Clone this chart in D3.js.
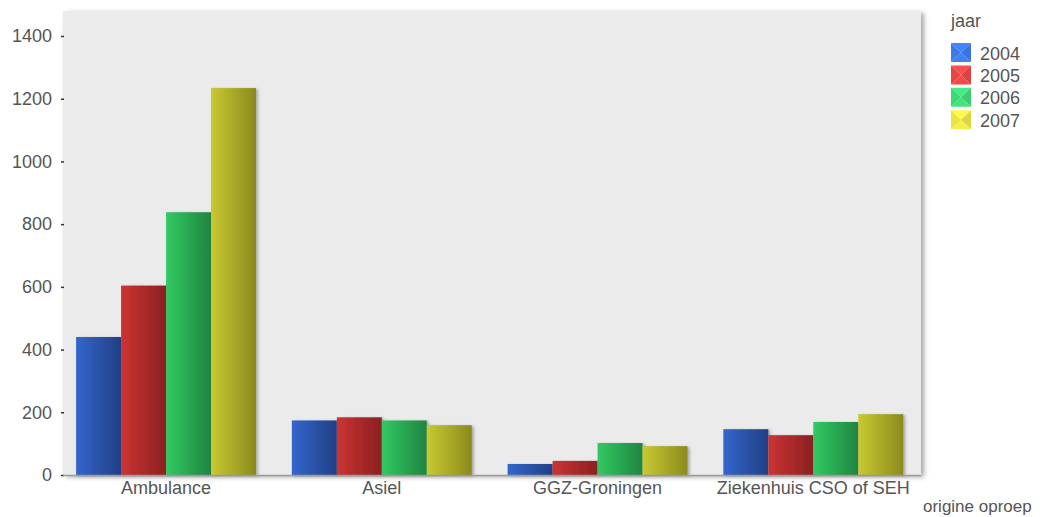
<!DOCTYPE html>
<html>
<head>
<meta charset="utf-8">
<script src="https://cdn.jsdelivr.net/npm/d3@7"></script>
<style>
  html, body { margin: 0; padding: 0; background: #fff; }
  svg { display: block; font-family: "Liberation Sans", Arial, sans-serif; }
</style>
</head>
<body>
<svg id="chart" width="1043" height="517"></svg>
<script>
// Meldingen per origine oproep, per jaar
const categories = ["Ambulance", "Asiel", "GGZ-Groningen", "Ziekenhuis CSO of SEH"];
const years = ["2004", "2005", "2006", "2007"];
const values2004 = [440, 174, 35, 146];
const values2005 = [604, 184, 45, 127];
const values2006 = [838, 174, 102, 169];
const values2007 = [1234, 159, 92, 194];
const yTicks = [0, 200, 400, 600, 800, 1000, 1200, 1400];

const seriesValues = [values2004, values2005, values2006, values2007];

// gradient stops per year: light left edge -> dark right edge
const barLight = ["#3366cc", "#cc3333", "#33c963", "#c9c932"];
const barDark  = ["#213f85", "#8a2121", "#1f8441", "#8a8a1e"];
const swatchCol = ["#3f7ff0", "#f04848", "#40e07c", "#f0ec48"];

const svg = d3.select("#chart");
const plot = { left: 63, top: 11, right: 921, bottom: 475 };

const defs = svg.append("defs");
const shadow = defs.append("filter").attr("id", "shadow")
  .attr("x", "-10%").attr("y", "-10%").attr("width", "130%").attr("height", "130%");
shadow.append("feDropShadow").attr("dx", 2).attr("dy", 1).attr("stdDeviation", 1.6)
  .attr("flood-color", "#000").attr("flood-opacity", 0.3);
const areaShadow = defs.append("filter").attr("id", "areaShadow")
  .attr("x", "-5%").attr("y", "-5%").attr("width", "110%").attr("height", "110%");
areaShadow.append("feDropShadow").attr("dx", 3).attr("dy", 2).attr("stdDeviation", 2.5)
  .attr("flood-color", "#000").attr("flood-opacity", 0.35);

years.forEach((yr, i) => {
  const g = defs.append("linearGradient").attr("id", "grad" + yr)
    .attr("x1", "0%").attr("x2", "100%").attr("y1", "0%").attr("y2", "0%");
  g.append("stop").attr("offset", "0%").attr("stop-color", barLight[i]);
  g.append("stop").attr("offset", "100%").attr("stop-color", barDark[i]);
});

// plot background
svg.append("rect")
  .attr("x", plot.left).attr("y", plot.top)
  .attr("width", plot.right - plot.left).attr("height", plot.bottom - plot.top)
  .attr("fill", "#ebebeb")
  .attr("filter", "url(#areaShadow)");

const x0 = d3.scaleBand().domain(categories).range([58.2, 921.2])
  .paddingInner(0.166).paddingOuter(0.083);
const x1 = d3.scaleBand().domain(years).range([0, x0.bandwidth()]);
const y = d3.scaleLinear().domain([0, 1400]).range([plot.bottom, 36]);

// bars
const groups = svg.append("g").selectAll("g")
  .data(categories).join("g")
  .attr("transform", d => `translate(${x0(d)},0)`);

groups.selectAll("rect")
  .data((c, ci) => years.map((yr, yi) => ({ yr, v: seriesValues[yi][ci] })))
  .join("rect")
  .attr("x", d => x1(d.yr))
  .attr("width", x1.bandwidth())
  .attr("y", d => y(d.v))
  .attr("height", d => y(0) - y(d.v))
  .attr("fill", d => `url(#grad${d.yr})`)
  .attr("filter", "url(#shadow)");

// y axis: tick dashes and labels, no domain line
const yAxis = svg.append("g")
  .attr("transform", `translate(${plot.left + 1},0)`)
  .call(d3.axisLeft(y).tickValues(yTicks).tickSize(3).tickPadding(9).tickFormat(d3.format("d")));
yAxis.select(".domain").remove();
yAxis.selectAll(".tick line").attr("stroke", "#333").attr("stroke-width", 1.5);
yAxis.selectAll(".tick text")
  .attr("font-size", 18).attr("fill", "#555")
  .attr("font-family", "Liberation Sans, Arial, sans-serif");

// x axis
const xAxis = svg.append("g")
  .attr("transform", `translate(0,${plot.bottom})`)
  .call(d3.axisBottom(x0).tickSize(0).tickPadding(6));
xAxis.select(".domain").attr("d", `M${plot.left},0.5H${plot.right}`)
  .attr("stroke", "#9a9a9a").attr("stroke-width", 1.5);
xAxis.selectAll(".tick text")
  .attr("font-size", 18).attr("fill", "#555")
  .attr("font-family", "Liberation Sans, Arial, sans-serif");

// axis title
svg.append("text")
  .attr("x", 923).attr("y", 512)
  .attr("font-size", 17).attr("fill", "#555")
  .text("origine oproep");

// legend
const legend = svg.append("g").attr("transform", "translate(951,0)");
legend.append("text").attr("x", 0).attr("y", 27)
  .attr("font-size", 18).attr("fill", "#555").text("jaar");

const item = legend.selectAll("g.item").data(years).join("g")
  .attr("class", "item")
  .attr("transform", (d, i) => `translate(0,${43 + i * 22.4})`);

const sw = 20, sh = 19;
item.each(function (d, i) {
  const g = d3.select(this);
  const base = d3.color(swatchCol[i]);
  const tri = [
    { pts: [[0, 0], [sw, 0], [sw / 2, sh / 2]], c: base.brighter(0.15) },
    { pts: [[sw, 0], [sw, sh], [sw / 2, sh / 2]], c: base.darker(0.25) },
    { pts: [[0, sh], [sw, sh], [sw / 2, sh / 2]], c: base.brighter(0.05) },
    { pts: [[0, 0], [0, sh], [sw / 2, sh / 2]], c: base.darker(0.1) }
  ];
  g.selectAll("path").data(tri).join("path")
    .attr("d", t => d3.line()(t.pts) + "Z")
    .attr("fill", t => t.c);
});
item.append("text").attr("x", 29).attr("y", 16.5)
  .attr("font-size", 18).attr("fill", "#555").text(d => d);
</script>
</body>
</html>
